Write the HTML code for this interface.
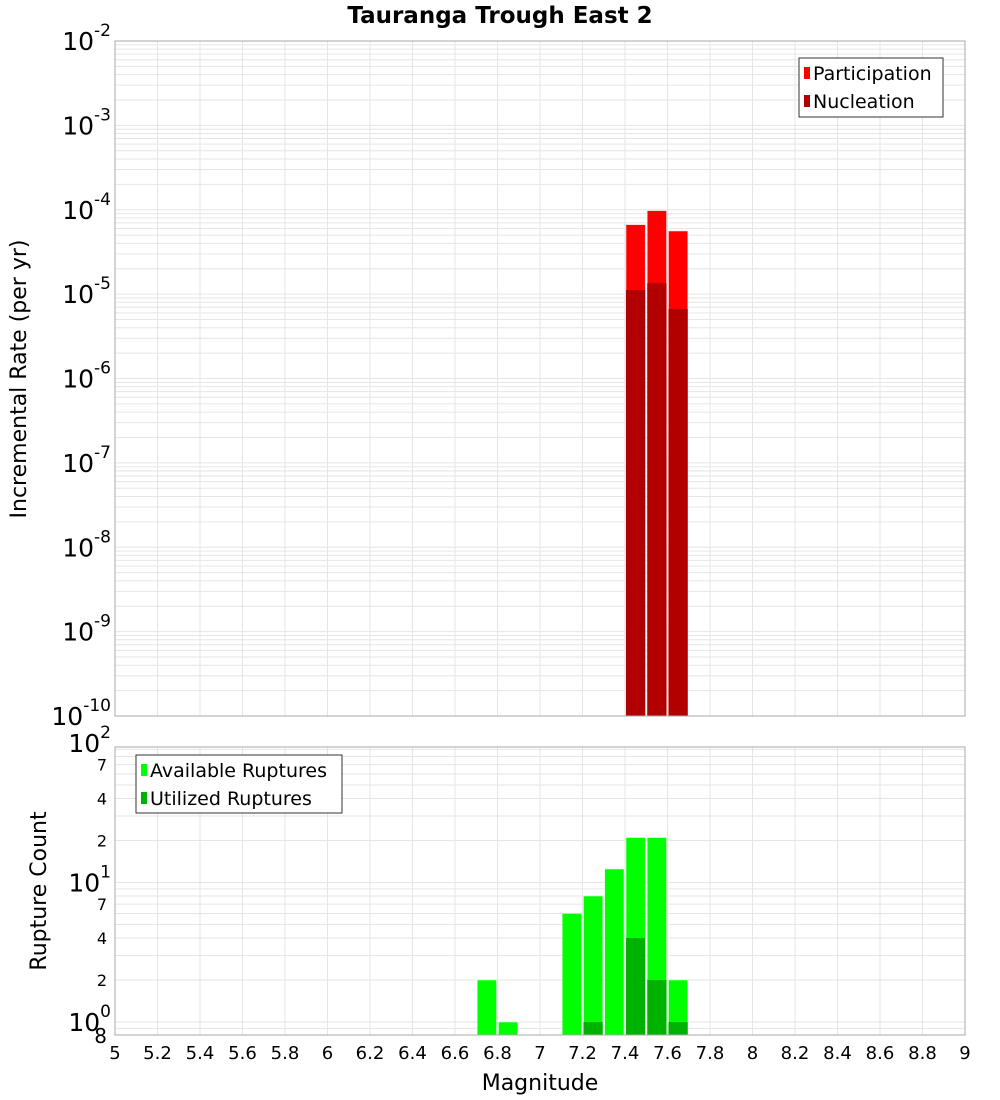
<!DOCTYPE html>
<html><head><meta charset="utf-8">
<style>
body{margin:0;background:#fff;}
svg{display:block;font-family:"DejaVu Sans","Liberation Sans",sans-serif;}
</style></head>
<body>
<svg id="chart" width="1000" height="1100" viewBox="0 0 1000 1100"></svg>
<script>
const magnitudes = [6.75, 6.85, 7.15, 7.25, 7.35, 7.45, 7.55, 7.65];
const participation = [null, null, null, null, null, 6.65e-5, 9.75e-5, 5.6e-5];
const nucleation = [null, null, null, null, null, 1.12e-5, 1.35e-5, 6.67e-6];
const availableRuptures = [2, 1, 6, 8, 12.5, 21, 21, 2];
const utilizedRuptures = [null, null, null, 1, null, 4, 2, 1];
const xTicks = [5,5.2,5.4,5.6,5.8,6,6.2,6.4,6.6,6.8,7,7.2,7.4,7.6,7.8,8,8.2,8.4,8.6,8.8,9];
const topExps = [-2,-3,-4,-5,-6,-7,-8,-9,-10];
const botMinorLabels = [2,4,7,20,40,70];

const NS = 'http://www.w3.org/2000/svg';
const svg = document.getElementById('chart');
function mk(tag, attrs, parent, text){
  const e = document.createElementNS(NS, tag);
  for (const k in attrs) e.setAttribute(k, attrs[k]);
  if (text !== undefined) e.textContent = text;
  (parent || svg).appendChild(e);
  return e;
}
const L = 115, R = 965;
const xs = v => L + (v - 5) / 4 * (R - L);
// top axis
const T1 = 41, B1 = 716;
const y1 = v => T1 + (-2 - Math.log10(v)) / 8 * (B1 - T1);
// bottom axis
const D2 = 139.5, base2 = 1022;
const T2 = 747, B2 = 1035;
const y2 = v => base2 - Math.log10(v) * D2;

// title
let t = mk('text', {x: 500, y: 23, 'text-anchor': 'middle', 'font-size': 23, 'font-weight': 'bold'}, svg, 'Tauranga Trough East 2');



function grid(top, bot, yfun, decades, parentName){
  const g = mk('g', {});
  
  
  xTicks.forEach(v => mk('line', {x1: xs(v), x2: xs(v), y1: top, y2: bot, stroke: '#e6e6e6', 'stroke-width': 1}, g));
  decades.forEach(d => {
    for (let m = 1; m <= 9; m++) {
      const y = yfun(m * Math.pow(10, d));
      if (y >= top && y <= bot) mk('line', {x1: L, x2: R, y1: y, y2: y, stroke: '#e6e6e6', 'stroke-width': 1}, g);
    }
  });
}
grid(T1, B1, y1, [-10,-9,-8,-7,-6,-5,-4,-3,-2], 'top-grid');
grid(T2, B2, y2, [-1,0,1,2], 'bottom-grid');

const bw = (xs(5.1) - xs(5)) ;
// top bars
magnitudes.forEach((m, i) => {
  if (participation[i]) {
    const r = mk('rect', {x: xs(m) - bw/2 + 1, y: y1(participation[i]), width: bw - 2, height: B1 - y1(participation[i]), fill: '#ff0000', stroke: '#ffcccc', 'stroke-width': 0.6});
    
    
  }
});
magnitudes.forEach((m, i) => {
  if (nucleation[i]) {
    const r = mk('rect', {x: xs(m) - bw/2 + 1, y: y1(nucleation[i]), width: bw - 2, height: B1 - y1(nucleation[i]), fill: '#b20000'});
    
    
  }
});
// bottom bars
magnitudes.forEach((m, i) => {
  if (availableRuptures[i]) {
    const r = mk('rect', {x: xs(m) - bw/2 + 1, y: y2(availableRuptures[i]), width: bw - 2, height: B2 - y2(availableRuptures[i]), fill: '#00ff00', stroke: '#ccffcc', 'stroke-width': 0.6});
    
    
  }
});
magnitudes.forEach((m, i) => {
  if (utilizedRuptures[i]) {
    const r = mk('rect', {x: xs(m) - bw/2 + 1, y: y2(utilizedRuptures[i]), width: bw - 2, height: B2 - y2(utilizedRuptures[i]), fill: '#00b200'});
    
    
  }
});

// frames
let f1 = mk('rect', {x: L, y: T1, width: R - L, height: B1 - T1, fill: 'none', stroke: '#aaaaaa', 'stroke-width': 1});


let f2 = mk('rect', {x: L, y: T2, width: R - L, height: B2 - T2, fill: 'none', stroke: '#aaaaaa', 'stroke-width': 1});



// top y tick labels
topExps.forEach(e => {
  const y = y1(Math.pow(10, e));
  const tx = mk('text', {x: 111, y: y + 9, 'text-anchor': 'end', 'font-size': 25});
  
  
  mk('tspan', {}, tx, '10');
  mk('tspan', {dy: -14, 'font-size': 17}, tx, String(e));
});
// bottom y tick labels
[[2,'2'],[1,'1'],[0,'0']].forEach(([e, s]) => {
  const y = y2(Math.pow(10, e));
  const tx = mk('text', {x: 111, y: y + 9, 'text-anchor': 'end', 'font-size': 25});
  
  
  mk('tspan', {}, tx, '10');
  mk('tspan', {dy: -14, 'font-size': 17}, tx, s);
});
botMinorLabels.forEach(v => {
  const s = String(v)[0];
  const tx = mk('text', {x: 107, y: y2(v) + 6, 'text-anchor': 'end', 'font-size': 16}, svg, s);
  
  
});
let e8 = mk('text', {x: 107, y: 1043, 'text-anchor': 'end', 'font-size': 20}, svg, '8');



// x tick labels
xTicks.forEach(v => {
  const tx = mk('text', {x: xs(v), y: 1059, 'text-anchor': 'middle', 'font-size': 18}, svg, String(v));
  
  
});
let xt = mk('text', {x: 540, y: 1090, 'text-anchor': 'middle', 'font-size': 22}, svg, 'Magnitude');


let yt1 = mk('text', {x: 0, y: 0, 'text-anchor': 'middle', 'font-size': 22, transform: 'translate(26,379) rotate(-90)'}, svg, 'Incremental Rate (per yr)');


let yt2 = mk('text', {x: 0, y: 0, 'text-anchor': 'middle', 'font-size': 22, transform: 'translate(46,891) rotate(-90)'}, svg, 'Rupture Count');



// legends
function legend(x, y, w, h, items, name){
  const g = mk('g', {});
  
  
  mk('rect', {x: x, y: y, width: w, height: h, fill: '#fff', stroke: '#333', 'stroke-width': 1}, g);
  items.forEach((it, i) => {
    const cy = y + 15 + i * 28;
    mk('rect', {x: x + 5, y: cy - 6, width: 6, height: 12, fill: it[1]}, g);
    const tx = mk('text', {x: x + 14, y: cy + 7, 'font-size': 19}, g, it[0]);
    
    
  });
}
legend(799, 58, 144, 59, [['Participation', '#ff0000'], ['Nucleation', '#b20000']], 'top-legend');
legend(136, 755, 206, 58, [['Available Ruptures', '#00ff00'], ['Utilized Ruptures', '#00b200']], 'bottom-legend');
</script>
</body></html>
